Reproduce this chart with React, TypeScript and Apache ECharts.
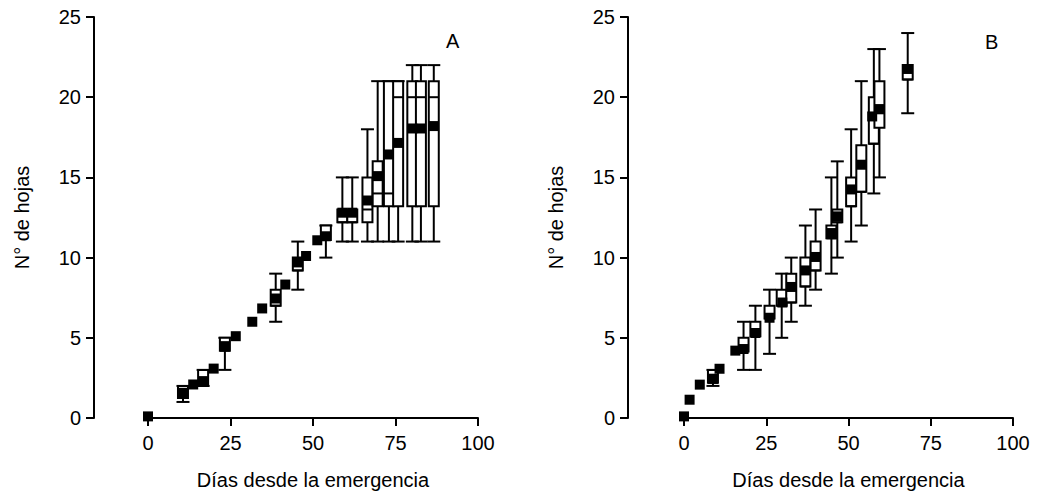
import React, { useEffect, useRef } from "react";
import * as echarts from "echarts";

// ---------- Panel A ----------
const boxDaysA = [10.6, 16.7, 23.3, 38.7, 45.4, 53.9, 58.9, 61.9, 66.5, 69.6, 73.0, 75.8, 80.1, 82.7, 86.6];
const whiskerLowA = [1, 2, 3, 6, 8, 10, 11, 11, 11, 11, 11, 11, 11, 11, 11];
const q1A = [1.25, 2, 4.2, 7, 9.2, 11.1, 12.2, 12.2, 12.2, 13.2, 13.2, 13.2, 13.2, 13.2, 13.2];
const medianA = [1.25, 2, 4.2, 7, 9.2, 11.1, 12.2, 12.2, 13, 14, 14, 20, 20, 20, 20];
const q3A = [2, 3, 5, 8, 10, 12, 13, 13, 15, 16, 21, 21, 21, 21, 21];
const whiskerHighA = [2, 3, 5, 9, 11, 12, 15, 15, 18, 21, 21, 21, 22, 22, 22];
const meanDaysA = [0, 10.6, 13.7, 16.8, 19.9, 23.3, 26.6, 31.6, 34.6, 38.7, 41.6, 45.4, 47.9, 51.3, 53.9, 58.9, 61.9, 66.5, 69.6, 73.0, 75.8, 80.1, 82.7, 86.6];
const meansA = [0.1, 1.57, 2.09, 2.3, 3.08, 4.48, 5.1, 6.0, 6.83, 7.45, 8.32, 9.7, 10.1, 11.08, 11.33, 12.8, 12.8, 13.56, 15.08, 16.43, 17.15, 18.05, 18.05, 18.2];

// ---------- Panel B ----------
const boxDaysB = [8.8, 18.1, 21.7, 26.0, 29.7, 32.6, 36.9, 40.0, 44.8, 46.6, 50.8, 53.9, 57.7, 59.4, 68.0];
const whiskerLowB = [2, 3, 3, 4, 5, 6, 7, 8, 9, 10, 11, 12, 14, 15, 19];
const q1B = [2.2, 4.15, 5.1, 6.2, 7, 7.2, 8.2, 9.2, 11.2, 12.2, 13.2, 14.1, 17.1, 18.1, 21.1];
const medianB = [2.2, 4.15, 5.1, 6.2, 7, 7.2, 8.2, 9.2, 11.2, 12.2, 13.2, 14.1, 17.1, 19, 21.1];
const q3B = [3, 5, 6, 7, 8, 9, 10, 11, 12, 13, 15, 17, 20, 21, 22];
const whiskerHighB = [3, 6, 7, 8, 9, 10, 12, 13, 15, 16, 18, 21, 23, 23, 24];
const meanDaysB = [0, 1.7, 4.8, 8.8, 10.8, 15.6, 18.1, 21.7, 26.0, 29.9, 32.6, 36.9, 40.0, 44.8, 46.6, 50.8, 53.9, 57.2, 59.4, 68.0];
const meansB = [0.1, 1.14, 2.08, 2.45, 3.07, 4.2, 4.3, 5.3, 6.25, 7.2, 8.17, 9.2, 10.04, 11.53, 12.57, 14.25, 15.79, 18.8, 19.26, 21.76];

// ---------- Axis ticks / labels ----------
const xTicks = { min: 0, max: 100, interval: 25 };
const yTicks = { min: 0, max: 25, interval: 5 };
const xTitle = "Días desde la emergencia";
const yTitle = "N° de hojas";
const panelLabels = ["A", "B"];

const FONT = "'Liberation Sans', Arial, Helvetica, sans-serif";
const FS = 20;

function buildBoxes(days, lo, q1, med, q3, hi) {
  return days.map((d, i) => [d, lo[i], q1[i], med[i], q3[i], hi[i]]);
}

function renderBox(params, api) {
  const x = api.value(0);
  const lo = api.coord([x, api.value(1)]);
  const q1 = api.coord([x, api.value(2)]);
  const md = api.coord([x, api.value(3)]);
  const q3 = api.coord([x, api.value(4)]);
  const hi = api.coord([x, api.value(5)]);
  const cx = lo[0];
  const hw = 5;
  const cw = 6.5;
  const ls = { stroke: "#000", lineWidth: 2, fill: null };
  const children = [
    { type: "line", shape: { x1: cx, y1: lo[1], x2: cx, y2: q1[1] }, style: ls },
    { type: "line", shape: { x1: cx, y1: q3[1], x2: cx, y2: hi[1] }, style: ls },
    { type: "line", shape: { x1: cx - cw, y1: lo[1], x2: cx + cw, y2: lo[1] }, style: ls },
    { type: "line", shape: { x1: cx - cw, y1: hi[1], x2: cx + cw, y2: hi[1] }, style: ls },
    {
      type: "rect",
      shape: { x: cx - hw, y: q3[1], width: hw * 2, height: q1[1] - q3[1] },
      style: { stroke: "#000", lineWidth: 2, fill: "#fff" },
    },
    { type: "line", shape: { x1: cx - hw, y1: md[1], x2: cx + hw, y2: md[1] }, style: ls },
  ];
  return { type: "group", children };
}

function xAxisCfg(gridIndex) {
  return {
    type: "value",
    gridIndex,
    min: xTicks.min,
    max: xTicks.max,
    interval: xTicks.interval,
    name: xTitle,
    nameLocation: "middle",
    nameGap: 52,
    nameTextStyle: { color: "#000", fontSize: FS, fontFamily: FONT },
    axisLine: { show: true, onZero: false, lineStyle: { color: "#000", width: 2 } },
    axisTick: { show: true, length: 8, lineStyle: { color: "#000", width: 2 } },
    axisLabel: { color: "#000", fontSize: FS, fontFamily: FONT, margin: 15 },
    splitLine: { show: false },
  };
}

function yAxisCfg(gridIndex, offset) {
  return {
    type: "value",
    gridIndex,
    min: yTicks.min,
    max: yTicks.max,
    interval: yTicks.interval,
    offset,
    name: yTitle,
    nameLocation: "middle",
    nameGap: 62,
    nameTextStyle: { color: "#000", fontSize: FS, fontFamily: FONT },
    axisLine: { show: true, onZero: false, lineStyle: { color: "#000", width: 2 } },
    axisTick: { show: true, length: 8, lineStyle: { color: "#000", width: 2 } },
    axisLabel: { color: "#000", fontSize: FS, fontFamily: FONT, margin: 13 },
    splitLine: { show: false },
  };
}

export default function App() {
  const ref = useRef(null);
  useEffect(() => {
    const chart = echarts.init(ref.current, null, { renderer: "svg" });
    const option = {
      animation: false,
      backgroundColor: "#fff",
      textStyle: { fontFamily: FONT },
      grid: [
        { left: 148, top: 17, width: 330, height: 401, outerBoundsMode: "none" },
        { left: 684, top: 17, width: 329, height: 401, outerBoundsMode: "none" },
      ],
      xAxis: [xAxisCfg(0), xAxisCfg(1)],
      yAxis: [yAxisCfg(0, 54), yAxisCfg(1, 56)],
      graphic: [
        {
          type: "text",
          left: 446,
          top: 31,
          style: { text: panelLabels[0], fill: "#000", fontSize: FS, fontFamily: FONT },
        },
        {
          type: "text",
          left: 985,
          top: 32,
          style: { text: panelLabels[1], fill: "#000", fontSize: FS, fontFamily: FONT },
        },
      ],
      series: [
        {
          type: "custom",
          xAxisIndex: 0,
          yAxisIndex: 0,
          renderItem: renderBox,
          encode: { x: 0, y: [1, 2, 3, 4, 5] },
          data: buildBoxes(boxDaysA, whiskerLowA, q1A, medianA, q3A, whiskerHighA),
          z: 2,
        },
        {
          type: "scatter",
          xAxisIndex: 0,
          yAxisIndex: 0,
          symbol: "rect",
          symbolSize: 10,
          itemStyle: { color: "#000", opacity: 1 },
          data: meanDaysA.map((d, i) => [d, meansA[i]]),
          z: 5,
        },
        {
          type: "custom",
          xAxisIndex: 1,
          yAxisIndex: 1,
          renderItem: renderBox,
          encode: { x: 0, y: [1, 2, 3, 4, 5] },
          data: buildBoxes(boxDaysB, whiskerLowB, q1B, medianB, q3B, whiskerHighB),
          z: 2,
        },
        {
          type: "scatter",
          xAxisIndex: 1,
          yAxisIndex: 1,
          symbol: "rect",
          symbolSize: 10,
          itemStyle: { color: "#000", opacity: 1 },
          data: meanDaysB.map((d, i) => [d, meansB[i]]),
          z: 5,
        },
      ],
    };
    chart.setOption(option);
    return () => chart.dispose();
  }, []);
  return (
    <div
      ref={ref}
      style={{ position: "absolute", left: 0, top: 0, width: 1037, height: 491 }}
    />
  );
}
